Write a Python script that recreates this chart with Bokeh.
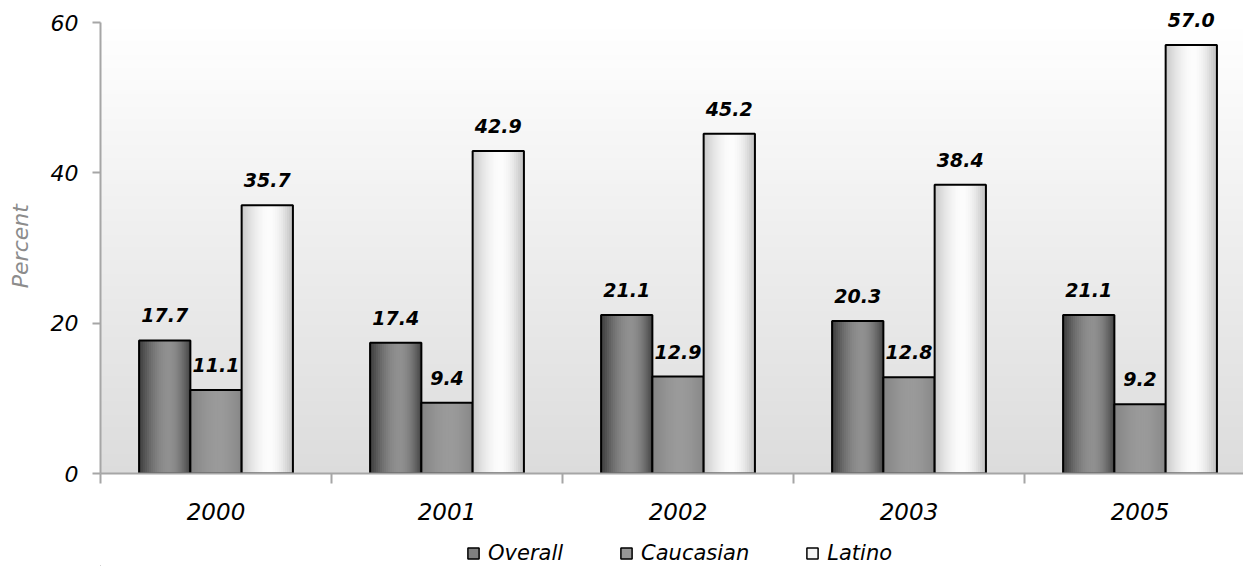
import numpy as np
from bokeh.plotting import figure
from bokeh.models import Range1d, FixedTicker, Legend, LegendItem
from bokeh.layouts import column
from bokeh.core.properties import value
from bokeh.embed import file_html
from bokeh.resources import INLINE

# ---- data ----
years = ["2000", "2001", "2002", "2003", "2005"]
overall = [17.7, 17.4, 21.1, 20.3, 21.1]
caucasian = [11.1, 9.4, 12.9, 12.8, 9.2]
latino = [35.7, 42.9, 45.2, 38.4, 57.0]
series_names = ["Overall", "Caucasian", "Latino"]
y_ticks = [0, 20, 40, 60]

FONT = "DejaVu Sans"
YMAX = 60
YTOP = 60 * 473 / 451  # a little head-room above 60 for the value labels
XMAX = 4.948

p = figure(width=1243, height=540, output_backend="svg", toolbar_location=None,
           x_range=Range1d(0, XMAX), y_range=Range1d(0, YTOP),
           min_border_left=100, min_border_right=0, min_border_top=0,
           min_border_bottom=67)
p.outline_line_color = None
p.xgrid.visible = False
p.ygrid.visible = False

# background vertical gradient (white top -> light gray bottom), only up to 60
rows = 256
bg = np.zeros((rows, 1), dtype=np.uint32)
view = bg.view(dtype=np.uint8).reshape((rows, 1, 4))
for r in range(rows):
    f = r / (rows - 1)  # 0 bottom, 1 top
    g = int(round(0xdc + (0xff - 0xdc) * f))
    view[r, 0, 0] = g
    view[r, 0, 1] = g
    view[r, 0, 2] = g
    view[r, 0, 3] = 255
p.image_rgba(image=[bg], x=0, y=0, dw=XMAX, dh=YMAX)

# gradient shading parameters per series: (left edge, peak, right edge, peak pos)
shades = {
    "Overall": (0x3c, 0x90, 0x44, 0.58),
    "Caucasian": (0x84, 0x9a, 0x86, 0.55),
    "Latino": (0xc8, 0xfc, 0xbe, 0.55),
}


def shade(name, t):
    L, P, R, c = shades[name]
    if t < c:
        v = L + (P - L) * np.sin(np.pi / 2 * t / c)
    else:
        v = R + (P - R) * np.sin(np.pi / 2 * (1 - t) / (1 - c))
    v = int(round(v))
    return "#%02x%02x%02x" % (v, v, v)


bw = 0.222
offsets = [-0.222, 0.0, 0.222]
series_vals = [overall, caucasian, latino]
centers = [i + 0.5 for i in range(len(years))]
N = 26
s = bw / N
for name, off, vals in zip(series_names, offsets, series_vals):
    xs0 = [c + off for c in centers]
    for k in range(N):
        t = (k + 0.5) / N
        col = shade(name, t)
        lefts = [x - bw / 2 + k * s for x in xs0]
        rights = [min(l + 1.8 * s, x + bw / 2) for l, x in zip(lefts, xs0)]
        p.quad(left=lefts, right=rights, top=vals, bottom=0, fill_color=col,
               line_color=None)
    p.vbar(x=xs0, top=vals, bottom=0, width=bw, fill_color=None,
           line_color="black", line_width=2)
    p.text(x=xs0, y=vals, text=["%.1f" % v for v in vals], text_align="center",
           text_baseline="alphabetic", y_offset=-25, text_font=value(FONT),
           text_font_style="bold italic", text_font_size="19px", text_color="black")

# y axis
ya = p.yaxis[0]
ya.ticker = FixedTicker(ticks=y_ticks)
ya.bounds = (0, YMAX)
ya.major_tick_out = 8
ya.major_tick_in = 0
ya.minor_tick_out = 0
ya.minor_tick_in = 0
ya.axis_line_color = "#a6a6a6"
ya.axis_line_width = 2
ya.major_tick_line_color = "#a6a6a6"
ya.major_tick_line_width = 2
ya.major_label_text_font = FONT
ya.major_label_text_font_style = "italic"
ya.major_label_text_font_size = "22px"
ya.major_label_text_color = "black"
ya.major_label_standoff = 14
ya.axis_label = "Percent\u00a0\u00a0\u2009"
ya.axis_label_text_font = FONT
ya.axis_label_text_font_style = "italic"
ya.axis_label_text_font_size = "22px"
ya.axis_label_text_color = "#8c8c8c"
ya.axis_label_standoff = 15

# x axis
xa = p.xaxis[0]
xa.ticker = FixedTicker(ticks=centers, minor_ticks=[0, 1, 2, 3, 4])
xa.major_label_overrides = {c: y for c, y in zip(centers, years)}
xa.major_tick_out = 0
xa.major_tick_in = 0
xa.minor_tick_out = 10
xa.minor_tick_in = 0
xa.minor_tick_line_color = "#a6a6a6"
xa.minor_tick_line_width = 2
xa.axis_line_color = "#a6a6a6"
xa.axis_line_width = 2
xa.major_label_text_font = FONT
xa.major_label_text_font_style = "italic"
xa.major_label_text_font_size = "23px"
xa.major_label_text_color = "black"
xa.major_label_standoff = 19

# ---- legend strip below ----
leg = figure(width=1243, height=26, output_backend="svg", toolbar_location=None,
             x_range=Range1d(0, 1), y_range=Range1d(0, 1),
             x_axis_type=None, y_axis_type=None,
             min_border_left=0, min_border_right=0, min_border_top=0,
             min_border_bottom=0)
leg.outline_line_color = None
leg.xgrid.visible = False
leg.ygrid.visible = False
items = []
for name in series_names:
    # proxy glyph kept outside the visible range; only its legend swatch shows
    r = leg.vbar(x=[-10], top=[0], width=0.1, fill_color=shade(name, 0.35),
                 line_color="black", line_width=1.5)
    items.append(LegendItem(label=name, renderers=[r]))
legend = Legend(items=items, orientation="horizontal", location=(366, 1),
                glyph_width=14, glyph_height=14, label_standoff=8, spacing=56,
                label_text_font=FONT, label_text_font_style="italic",
                label_text_font_size="21px", label_text_color="black",
                border_line_color=None, background_fill_alpha=0, padding=0,
                margin=0)
leg.add_layout(legend, "center")

layout = column(p, leg, spacing=0)
open("out.html", "w").write(file_html(layout, INLINE))
